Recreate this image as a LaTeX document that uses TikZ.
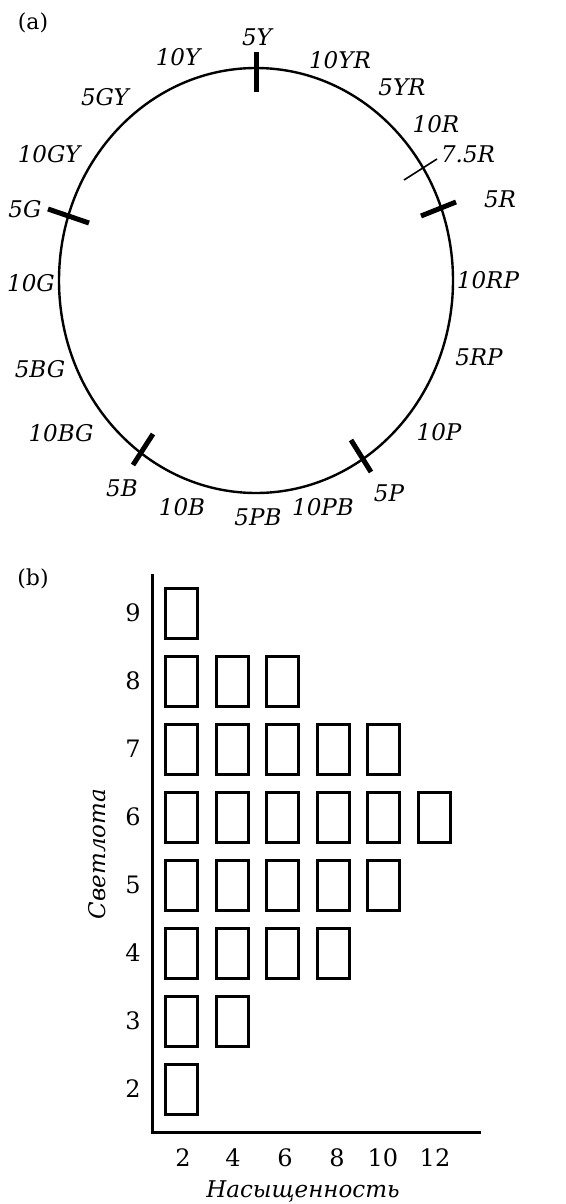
\documentclass[tikz,border=0pt]{standalone}
\usepackage{fontspec}
\setmainfont{DejaVu Serif}
\begin{document}
\begin{tikzpicture}[x=1pt,y=-1pt,
  hue/.style={font=\fontsize{23}{26}\selectfont\itshape, inner sep=0pt},
  tickthick/.style={line width=5pt},
  tickthin/.style={line width=1.6pt},
  cell/.style={draw, line width=3pt, minimum width=32pt, minimum height=50pt, inner sep=0pt},
  num/.style={font=\fontsize{24}{26}\selectfont, inner sep=0pt},
  axis/.style={line width=3pt},
  panel/.style={font=\fontsize{22}{26}\selectfont, inner sep=0pt}]
\useasboundingbox (0,0) rectangle (565,1204);
% (a)
\node[panel] (pa) at (33,23) {(a)};
\draw[line width=2.4pt] (256,280.5) ellipse [x radius=197, y radius=212.5];
\coordinate (t5Ya) at (256,52); \coordinate (t5Yb) at (256,92);
\coordinate (t5Ga) at (48,209); \coordinate (t5Gb) at (89,223);
\coordinate (t5Ra) at (421,216); \coordinate (t5Rb) at (456,202);
\coordinate (t75a) at (404,180); \coordinate (t75b) at (437,159);
\coordinate (t5Ba) at (153,434); \coordinate (t5Bb) at (133,465);
\coordinate (t5Pa) at (351,440); \coordinate (t5Pb) at (371,472);
\draw[tickthick] (t5Ya) -- (t5Yb);
\draw[tickthick] (t5Ga) -- (t5Gb);
\draw[tickthick] (t5Ra) -- (t5Rb);
\draw[tickthin] (t75a) -- (t75b);
\draw[tickthick] (t5Ba) -- (t5Bb);
\draw[tickthick] (t5Pa) -- (t5Pb);
\node[hue] (l5Y) at (257,37) {5Y};
\node[hue] (l10Y) at (178,57) {10Y};
\node[hue] (l10YR) at (340,60) {10YR};
\node[hue] (l5YR) at (402,87) {5YR};
\node[hue] (l5GY) at (105,97) {5GY};
\node[hue] (l10R) at (436,124) {10R};
\node[hue] (l75R) at (468,154) {7.5R};
\node[hue] (l10GY) at (49,154) {10GY};
\node[hue] (l5G) at (25,209) {5G};
\node[hue] (l5R) at (500,199) {5R};
\node[hue] (l10G) at (31,283) {10G};
\node[hue] (l10RP) at (488,280) {10RP};
\node[hue] (l5BG) at (40,369) {5BG};
\node[hue] (l5RP) at (479,357) {5RP};
\node[hue] (l10BG) at (61,433) {10BG};
\node[hue] (l10P) at (439,432) {10P};
\node[hue] (l5B) at (122,488) {5B};
\node[hue] (l5P) at (389,493) {5P};
\node[hue] (l10B) at (182,507) {10B};
\node[hue] (l5PB) at (258,517) {5PB};
\node[hue] (l10PB) at (323,507) {10PB};
% (b)
\node[panel] (pb) at (33,579) {(b)};
\coordinate (ytop) at (152,574);
\coordinate (orig) at (152,1132);
\coordinate (xend) at (481,1132);
\draw[axis] (ytop) -- (orig) -- (xend);
\foreach \v/\n [count=\r from 0] in {9/1,8/3,7/5,6/6,5/5,4/4,3/2,2/1}{
  \node[num] (y\v) at (133,613+68*\r) {\v};
  \foreach \c in {1,...,\n}{
    \node[cell] (c\v-\c) at (181.5+50.6*\c-50.6,613+68*\r) {};
  }
}
\foreach \s/\x in {2/183,4/233,6/285,8/337,10/383,12/435}{
  \node[num] (x\s) at (\x,1158) {\s};
}
\node[hue] (xlab) at (303,1191) {Насыщенность};
\node[hue, rotate=90] (ylab) at (97,854) {Светлота};
\end{tikzpicture}
\end{document}
